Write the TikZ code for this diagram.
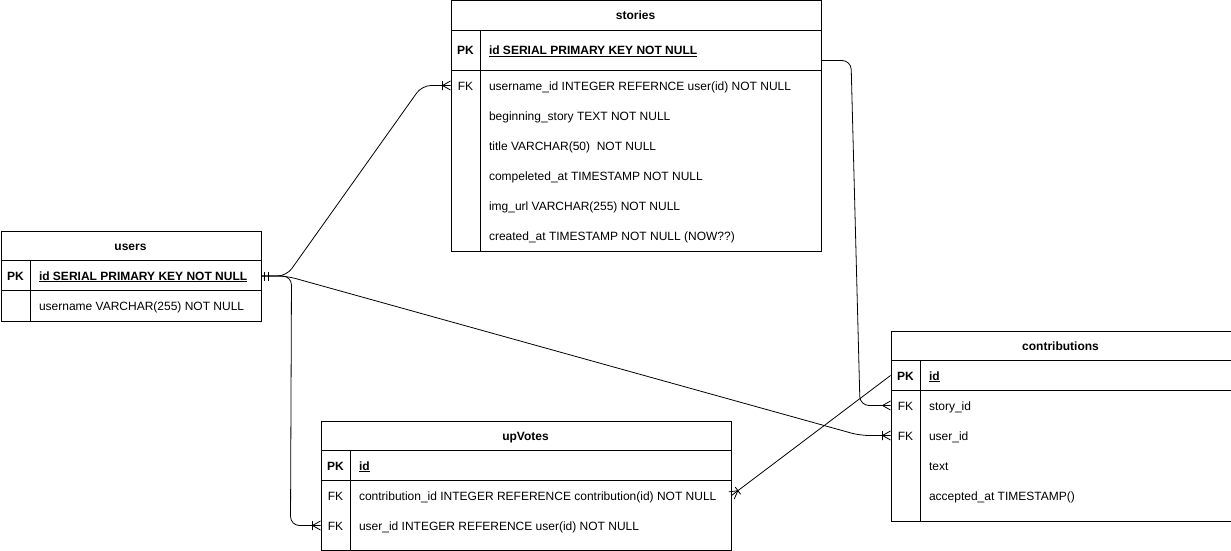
\documentclass[tikz,border=0pt]{standalone}
\usepackage{fontspec}
\setmainfont{Liberation Sans}
\usetikzlibrary{decorations.markings,calc}
\begin{document}
\begin{tikzpicture}[x=1pt,y=-1pt,line width=1pt,
  every node/.style={font=\fontsize{12}{14}\selectfont},
  tbl/.style={draw,rectangle,inner sep=0pt,anchor=north west},
  txt/.style={inner sep=0pt,text height=9pt,text depth=0pt},
  hdr/.style={txt,font=\fontsize{12}{14}\selectfont\bfseries},
  keytxt/.style={txt},
  pktxt/.style={txt,font=\fontsize{12}{14}\selectfont\bfseries},
  fld/.style={txt,anchor=west},
  pkfld/.style={fld,font=\fontsize{12}{14}\selectfont\bfseries},
  conn/.style={draw,line width=0.8pt,rounded corners=9pt},
  endmany/.style={postaction={decorate,decoration={markings,
    mark=at position 1 with {\draw[line width=0.8pt] (-8pt,0pt) -- (0pt,4.5pt) (-8pt,0pt) -- (0pt,-4.5pt);}}}},
  endonemany/.style={postaction={decorate,decoration={markings,
    mark=at position 1 with {\draw[line width=0.8pt] (-8pt,0pt) -- (0pt,4.5pt) (-8pt,0pt) -- (0pt,-4.5pt) (-8pt,-4.5pt) -- (-8pt,4.5pt);}}}},
  startmandone/.style={postaction={decorate,decoration={markings,
    mark=at position 0 with {\draw[line width=0.8pt] (2.5pt,-4.5pt) -- (2.5pt,4.5pt) (7pt,-4.5pt) -- (7pt,4.5pt);}}}}
]
\useasboundingbox (0,0) rectangle (1231,551);

% ---------- stories ----------
\node[tbl,minimum width=370pt,minimum height=250pt] (stories) at (450.5,0.5) {};
\draw (450.5,30.5) -- (820.5,30.5);
\draw (450.5,70.5) -- (820.5,70.5);
\draw (480.5,30.5) -- (480.5,250.5);
\node[hdr] (sT) at (635.5,15.5) {stories};
\node[pktxt] (sK0) at (465.5,50.5) {PK};
\node[pkfld] (sF0) at (488.5,50.5) {\underline{id SERIAL PRIMARY KEY NOT NULL}};
\node[keytxt] (sK1) at (465.5,85.5) {FK};
\node[fld] (sF1) at (488.5,85.5) {username\_id INTEGER REFERNCE user(id) NOT NULL};
\node[fld] (sF2) at (488.5,115.5) {beginning\_story TEXT NOT NULL};
\node[fld] (sF3) at (488.5,145.5) {title VARCHAR(50)\ \ NOT NULL};
\node[fld] (sF4) at (488.5,175.5) {compeleted\_at TIMESTAMP NOT NULL};
\node[fld] (sF5) at (488.5,205.5) {img\_url VARCHAR(255) NOT NULL};
\node[fld] (sF6) at (488.5,235.5) {created\_at TIMESTAMP NOT NULL (NOW??)};

% ---------- users ----------
\node[tbl,minimum width=260pt,minimum height=90pt] (users) at (0.5,230.5) {};
\draw (0.5,260.5) -- (260.5,260.5);
\draw (0.5,290.5) -- (260.5,290.5);
\draw (30.5,260.5) -- (30.5,320.5);
\node[hdr] (uT) at (130.5,245.5) {users};
\node[pktxt] (uK0) at (15.5,275.5) {PK};
\node[pkfld] (uF0) at (38.5,275.5) {\underline{id SERIAL PRIMARY KEY NOT NULL}};
\node[fld] (uF1) at (38.5,305.5) {username VARCHAR(255) NOT NULL};

% ---------- contributions ----------
\node[tbl,minimum width=340pt,minimum height=190pt] (contrib) at (890.5,330.5) {};
\draw (890.5,360.5) -- (1230.5,360.5);
\draw (890.5,390.5) -- (1230.5,390.5);
\draw (920.5,360.5) -- (920.5,520.5);
\node[hdr] (cT) at (1060.5,345.5) {contributions};
\node[pktxt] (cK0) at (905.5,375.5) {PK};
\node[pkfld] (cF0) at (928.5,375.5) {\underline{id}};
\node[keytxt] (cK1) at (905.5,405.5) {FK};
\node[fld] (cF1) at (928.5,405.5) {story\_id};
\node[keytxt] (cK2) at (905.5,435.5) {FK};
\node[fld] (cF2) at (928.5,435.5) {user\_id};
\node[fld] (cF3) at (928.5,465.5) {text};
\node[fld] (cF4) at (928.5,495.5) {accepted\_at TIMESTAMP()};

% ---------- upVotes ----------
\node[tbl,minimum width=410pt,minimum height=129.5pt] (upv) at (320.5,420.5) {};
\draw (320.5,450.5) -- (730.5,450.5);
\draw (320.5,480.5) -- (730.5,480.5);
\draw (350.5,450.5) -- (350.5,550);
\node[hdr] (vT) at (525.5,435.5) {upVotes};
\node[pktxt] (vK0) at (335.5,465.5) {PK};
\node[pkfld] (vF0) at (358.5,465.5) {\underline{id}};
\node[keytxt] (vK1) at (335.5,495.5) {FK};
\node[fld] (vF1) at (358.5,495.5) {contribution\_id INTEGER REFERENCE contribution(id) NOT NULL};
\node[keytxt] (vK2) at (335.5,525.5) {FK};
\node[fld] (vF2) at (358.5,525.5) {user\_id INTEGER REFERENCE user(id) NOT NULL};

% ---------- connectors ----------
\coordinate (uOut) at (users.east);
\coordinate (sIn) at (stories.west |- sK1);
\coordinate (sOut) at ($(stories.north east)+(0,60)$);
\coordinate (cIn1) at (contrib.west |- cK1);
\coordinate (cIn2) at (contrib.west |- cK2);
\coordinate (cOut) at (contrib.west |- cK0);
\coordinate (vIn1) at (upv.east |- vK1);
\coordinate (vIn2) at (upv.west |- vK2);

\path[conn,startmandone,endonemany] (uOut) -- ++(25,0) -- (422,85.5) -- (sIn);
\path[conn,endonemany] (uOut) -- ++(25,0) -- (860,435.5) -- (cIn2);
\path[conn,endonemany] (uOut) -- ++(30,0) -- (290.5,525.5) -- (vIn2);
\path[conn,endmany] (sOut) -- (851,60.5) -- (860,405.5) -- (cIn1);
\path[conn,endonemany] (cOut) -- (vIn1);
\end{tikzpicture}
\end{document}
